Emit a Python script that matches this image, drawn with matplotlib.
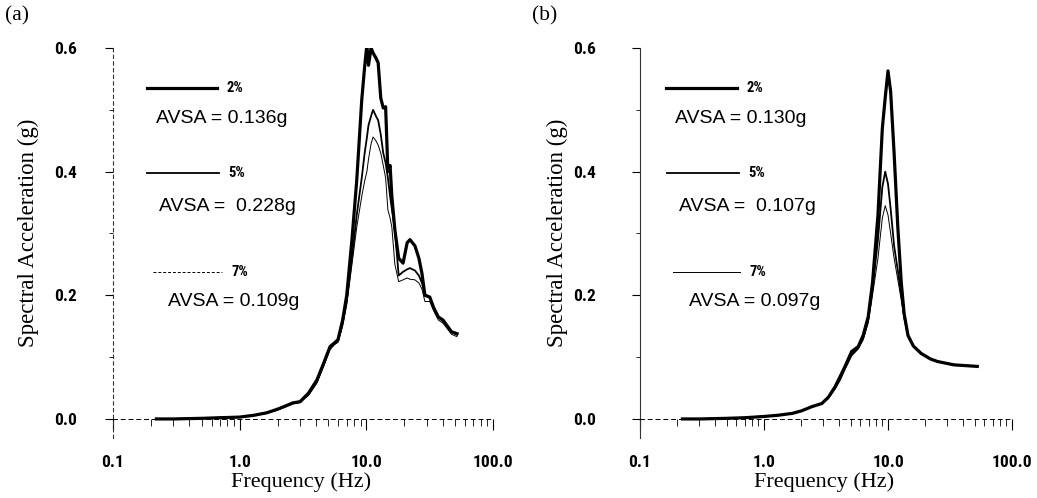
import matplotlib
matplotlib.use("Agg")
import matplotlib.pyplot as plt
import numpy as np
from matplotlib.ticker import FixedLocator, NullFormatter

# --- data ---
FREQ_A = [0.22, 0.3, 0.5, 0.7, 1.0,
          1.3, 1.64, 2.0, 2.3, 2.63,
          3.0, 3.5, 4.07, 4.6, 5.17,
          5.6, 5.97, 6.5, 7.0, 7.7,
          8.4, 9.2, 9.7, 10.1, 10.4,
          10.9, 11.3, 11.9, 12.4, 13.0,
          13.6, 14.2, 14.8, 15.4, 15.9,
          16.8, 18.0, 19.5, 21.0, 22.1,
          24.2, 26.0, 27.5, 29.0, 31.7,
          34.0, 37.0, 40.3, 47.0, 52.0]
SA_A_2 = [0.0, 0.0, 0.001, 0.002, 0.003,
          0.006, 0.010, 0.016, 0.021, 0.026,
          0.028, 0.042, 0.063, 0.090, 0.117,
          0.123, 0.128, 0.16, 0.20, 0.29,
          0.386, 0.516, 0.57, 0.605, 0.572,
          0.60, 0.592, 0.584, 0.576, 0.519,
          0.503, 0.505, 0.40, 0.41, 0.36,
          0.306, 0.26, 0.252, 0.285, 0.29,
          0.28, 0.26, 0.235, 0.20, 0.197,
          0.18, 0.165, 0.16, 0.141, 0.138]
SA_A_5 = [0.0, 0.0, 0.001, 0.002, 0.003,
          0.006, 0.010, 0.015, 0.020, 0.025,
          0.027, 0.040, 0.060, 0.088, 0.115,
          0.122, 0.126, 0.155, 0.19, 0.26,
          0.33, 0.39, 0.43, 0.455, 0.475,
          0.49, 0.50, 0.49, 0.483, 0.46,
          0.43, 0.414, 0.39, 0.36, 0.34,
          0.306, 0.232, 0.238, 0.242, 0.244,
          0.24, 0.232, 0.22, 0.202, 0.197,
          0.18, 0.165, 0.158, 0.141, 0.136]
SA_A_7 = [0.0, 0.0, 0.001, 0.002, 0.003,
          0.006, 0.010, 0.015, 0.020, 0.025,
          0.027, 0.038, 0.058, 0.085, 0.112,
          0.12, 0.124, 0.15, 0.185, 0.25,
          0.31, 0.36, 0.385, 0.40, 0.42,
          0.445, 0.456, 0.45, 0.443, 0.43,
          0.41, 0.39, 0.338, 0.325, 0.31,
          0.25, 0.222, 0.225, 0.228, 0.226,
          0.225, 0.22, 0.21, 0.19, 0.19,
          0.175, 0.16, 0.155, 0.137, 0.133]

FREQ_B = [0.22, 0.3, 0.5, 0.7, 1.0, 1.3, 1.69, 2.0, 2.44, 2.93, 3.3, 3.74, 4.1, 4.5, 5.09,
          5.75, 6.3, 6.92, 7.5, 8.3, 9.0, 9.5, 10.0, 10.5, 11.2, 12.0, 12.8, 13.5, 14.5, 16.0,
          18.5, 22.0, 25.0, 34.0, 52.5]
SA_B_2 = [0.0, 0.0, 0.001, 0.002, 0.004, 0.006, 0.009, 0.013, 0.02, 0.025, 0.035, 0.052, 0.068, 0.085, 0.109,
          0.117, 0.135, 0.165, 0.22, 0.33, 0.47, 0.52, 0.563, 0.53, 0.43, 0.31, 0.22, 0.17, 0.135, 0.118,
          0.106, 0.097, 0.093, 0.0875, 0.085]
SA_B_5 = [0.0, 0.0, 0.001, 0.002, 0.004, 0.006, 0.009, 0.013, 0.02, 0.025, 0.034, 0.05, 0.064, 0.082, 0.104,
          0.115, 0.13, 0.16, 0.21, 0.29, 0.375, 0.40, 0.38, 0.34, 0.28, 0.24, 0.20, 0.165, 0.135, 0.118,
          0.106, 0.097, 0.093, 0.0875, 0.085]
SA_B_7 = [0.0, 0.0, 0.001, 0.002, 0.004, 0.006, 0.009, 0.013, 0.02, 0.025, 0.033, 0.048, 0.062, 0.08, 0.102,
          0.113, 0.128, 0.155, 0.20, 0.26, 0.325, 0.345, 0.33, 0.30, 0.26, 0.225, 0.192, 0.162, 0.133, 0.117,
          0.106, 0.097, 0.093, 0.0875, 0.085]

DAMPING = ['2%', '5%', '7%']
AVSA_A = ['AVSA = 0.136g', 'AVSA =  0.228g', 'AVSA = 0.109g']
AVSA_B = ['AVSA = 0.130g', 'AVSA =  0.107g', 'AVSA = 0.097g']

X_TICKS = [0.1, 1.0, 10.0, 100.0]
X_TICK_LABELS = ['0.1', '1.0', '10.0', '100.0']
Y_TICKS = [0.0, 0.2, 0.4, 0.6]
Y_TICK_LABELS = ['0.0', '0.2', '0.4', '0.6']

NARROW = ['Roboto Condensed', 'DejaVu Sans']
SERIF = ['Liberation Serif', 'DejaVu Serif']
SANS = ['Liberation Sans', 'DejaVu Sans']

LINE_W = [2.3, 1.3, 0.7]


def plot_panel(ax, freq, series, avsa, tag, spine_style, ypad, key_x):
    for sa, lw in zip(series, LINE_W):
        ax.plot(freq, sa, color='black', lw=lw, solid_joinstyle='round')

    ax.set_xscale('log')
    ax.set_xlim(0.1, 100)
    ax.set_ylim(-0.03, 0.6)

    ax.spines['top'].set_visible(False)
    ax.spines['right'].set_visible(False)
    ax.spines['bottom'].set_position(('data', 0))
    ax.spines['bottom'].set_linestyle((0, (4, 4)))
    ax.spines['bottom'].set_linewidth(0.7)
    ax.spines['left'].set_linestyle(spine_style)
    ax.spines['left'].set_linewidth(0.8)
    ax.spines['left'].set_color('#333333')

    ax.set_xticks(X_TICKS)
    ax.set_xticklabels(X_TICK_LABELS)
    ax.xaxis.set_minor_locator(FixedLocator(
        [m * d for d in (0.1, 1, 10) for m in range(2, 10)]))
    ax.xaxis.set_minor_formatter(NullFormatter())
    ax.set_yticks(Y_TICKS)
    ax.set_yticklabels(Y_TICK_LABELS)
    ax.yaxis.set_minor_locator(FixedLocator([0.1, 0.3, 0.5]))

    ax.tick_params(axis='x', which='major', direction='out', length=8, width=0.8, pad=18)
    ax.tick_params(axis='x', which='minor', direction='out', length=5, width=0.6)
    ax.tick_params(axis='y', which='major', direction='out', length=6, width=0.8, pad=ypad)
    ax.tick_params(axis='y', which='minor', direction='out', length=3, width=0.6)
    for lab in ax.get_xticklabels() + ax.get_yticklabels():
        lab.set_family(NARROW)
        lab.set_fontweight('bold')
        lab.set_fontsize(12.5)

    ax.set_ylabel('Spectral Acceleration (g)', family=SERIF, fontsize=16.5, va='center')
    ax.yaxis.set_label_coords(-0.222, 0.525)
    ax.set_xlabel('Frequency (Hz)', family=SERIF, fontsize=16, va='center')
    ax.xaxis.set_label_coords(0.495, -0.114)

    # legend keys with the AVSA values under each one
    key_y = [0.897, 0.679, 0.425]
    text_y = [0.820, 0.594, 0.348]
    styles = ['-', '-', (0, (3, 2))] if tag == '(a)' else ['-', '-', '-']
    for i in range(3):
        x0, x1 = key_x[i]
        ax.plot([x0, x1], [key_y[i], key_y[i]], transform=ax.transAxes,
                color='black', lw=LINE_W[i], ls=styles[i], clip_on=False)
        ax.text(x1 + 0.025, key_y[i], DAMPING[i], transform=ax.transAxes,
                family=NARROW, fontweight='bold', fontsize=10.5, va='center', ha='left')
        ax.text(x0 + 0.025 + 0.008 * i, text_y[i], avsa[i], transform=ax.transAxes,
                family=SANS, fontsize=14, va='center', ha='left')


def main():
    fig = plt.figure(figsize=(10.37, 4.98), dpi=100)
    ax_a = fig.add_axes([113 / 1037, 1 - 437.5 / 498, 380 / 1037, 389.5 / 498])
    ax_b = fig.add_axes([640 / 1037, 1 - 437.5 / 498, 372 / 1037, 389.5 / 498])

    plot_panel(ax_a, FREQ_A, [SA_A_2, SA_A_5, SA_A_7], AVSA_A, '(a)',
               (0, (3, 3)), 20, [(0.089, 0.274), (0.089, 0.279), (0.105, 0.287)])
    plot_panel(ax_b, FREQ_B, [SA_B_2, SA_B_5, SA_B_7], AVSA_B, '(b)',
               '-', 26, [(0.07, 0.26), (0.073, 0.265), (0.09, 0.27)])

    fig.text(5 / 1037, 1 - 16 / 498, '(a)', family=SERIF, fontsize=15.5, va='center')
    fig.text(532 / 1037, 1 - 16 / 498, '(b)', family=SERIF, fontsize=15.5, va='center')

    fig.savefig('out.png', dpi=100)
    plt.close(fig)


if __name__ == "__main__":
    main()
